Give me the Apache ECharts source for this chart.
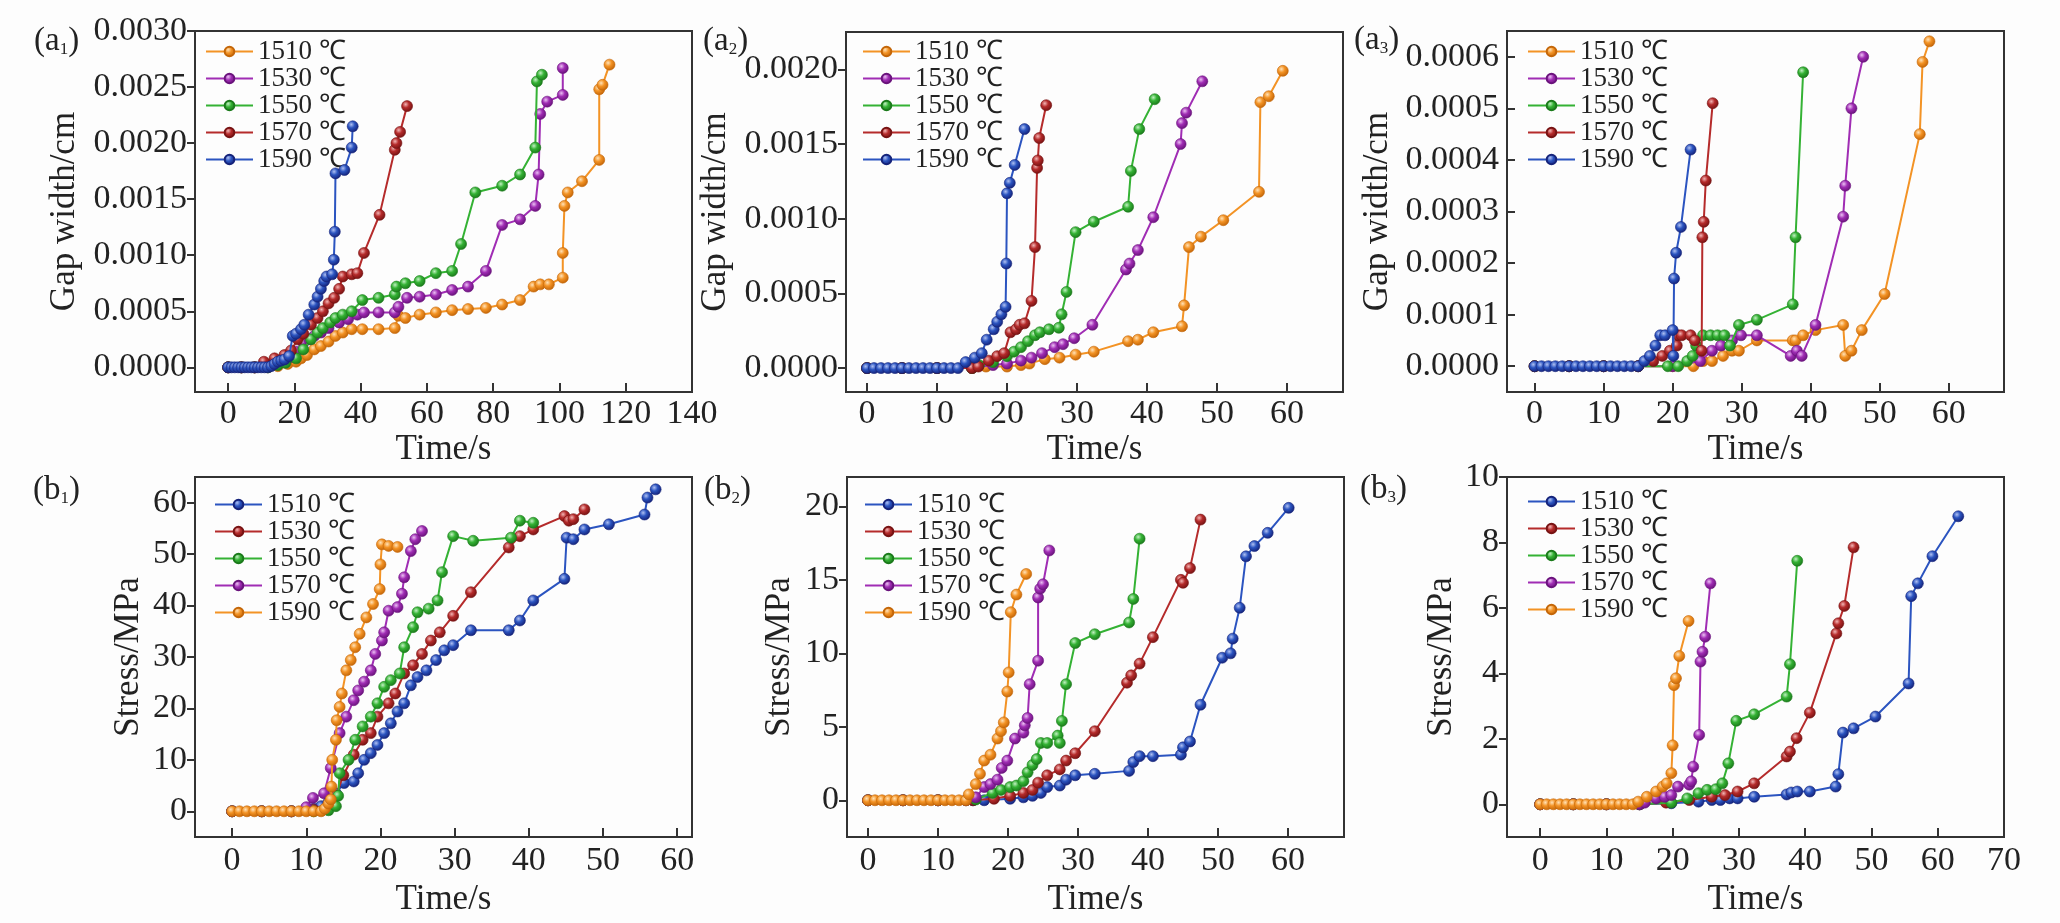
<!DOCTYPE html>
<html>
<head>
<meta charset="utf-8">
<script src="https://cdn.jsdelivr.net/npm/echarts@6/dist/echarts.min.js"></script>
<style>
html,body{margin:0;padding:0;background:#fdfdfd;}
#chart{width:2060px;height:923px;}
</style>
</head>
<body>
<div id="chart"></div>
<script>
// ---------- DATA ----------
const temps = ['1510 ℃','1530 ℃','1550 ℃','1570 ℃','1590 ℃'];

// tick values
const xTicksA1 = [0,20,40,60,80,100,120,140];
const xTicks60 = [0,10,20,30,40,50,60];
const xTicksB3 = [0,10,20,30,40,50,60,70];
const yTicksA1 = [0,0.0005,0.001,0.0015,0.002,0.0025,0.003];
const yTicksA2 = [0,0.0005,0.001,0.0015,0.002];
const yTicksA3 = [0,0.0001,0.0002,0.0003,0.0004,0.0005,0.0006];
const yTicksB1 = [0,10,20,30,40,50,60];
const yTicksB2 = [0,5,10,15,20];
const yTicksB3 = [0,2,4,6,8,10];

// (a1) gap width vs time
const a1_1510 = [[0,0],[4,0],[8,0],[12,0],[15,0.00001],[18,0.00003],[20.5,0.00005],[22,0.00008],[23.8,0.00011],[26,0.00016],[28,0.00019],[30.3,0.00023],[32.4,0.00028],[34.6,0.00031],[37.3,0.00034],[40.5,0.00034],[45.4,0.00034],[50.3,0.00035],[51.4,0.00046],[53.5,0.00044],[57.8,0.00047],[62.7,0.00049],[67.6,0.00051],[72.4,0.00052],[77.8,0.00053],[82.7,0.00056],[88.1,0.0006],[92.2,0.00072],[94.2,0.00074],[96.8,0.00074],[101,0.0008],[101,0.00102],[101.5,0.00144],[102.5,0.00156],[106.8,0.00166],[112,0.00185],[112,0.00248],[113,0.00252],[115.1,0.0027]];
const a1_1530 = [[0,0],[4,0],[8,0],[12,0.00002],[15,0.00004],[18,0.00008],[20.5,0.00014],[22.7,0.00022],[24.5,0.00025],[26,0.00028],[28,0.00031],[30.3,0.00035],[33.5,0.0004],[36.2,0.00043],[39,0.00047],[41,0.00049],[45.4,0.00049],[50.3,0.00049],[51.4,0.00054],[54,0.00062],[57.8,0.00063],[62.7,0.00065],[67.6,0.00069],[72.4,0.00072],[77.8,0.00086],[82.7,0.00127],[88.1,0.00132],[92.7,0.00144],[93.7,0.00172],[94.2,0.00226],[96.3,0.00237],[101,0.00243],[101,0.00267]];
const a1_1550 = [[0,0],[4,0],[8,0],[12,0],[15,0.00002],[17.3,0.00004],[20.5,0.00008],[22.7,0.00016],[25,0.00025],[27,0.00031],[28.6,0.00035],[30.8,0.0004],[32.4,0.00044],[34.6,0.00047],[37.3,0.0005],[40.5,0.0006],[45.4,0.00062],[50.3,0.00065],[50.8,0.00072],[53.5,0.00075],[57.8,0.00077],[62.7,0.00084],[67.6,0.00086],[70.3,0.0011],[74.6,0.00156],[82.7,0.00162],[88.1,0.00172],[92.7,0.00196],[93.2,0.00255],[94.7,0.00261]];
const a1_1570 = [[0,0],[4,0],[8,0],[10.8,0.00005],[14,0.00008],[17,0.00011],[19,0.00015],[21,0.00025],[22.7,0.0003],[25,0.00038],[27,0.00044],[28.6,0.0005],[30.3,0.00057],[32,0.00062],[33.5,0.0007],[34.6,0.00081],[37.3,0.00083],[39,0.00084],[41,0.00102],[45.7,0.00136],[50.3,0.00194],[50.8,0.002],[51.9,0.0021],[54,0.00233]];
const a1_1590 = [[0,0],[1,0],[2,0],[3,0],[4,0],[5,0],[6,0],[7,0],[8,0],[9,0],[10,0],[11,0],[12,0],[13,0.00001],[14,0.00003],[15,0.00005],[16,0.00006],[17,0.00007],[18.4,0.0001],[19.5,0.00028],[20.5,0.0003],[22,0.00034],[23,0.00038],[24.3,0.00047],[26,0.00056],[27,0.00063],[28,0.0007],[29,0.00077],[29.7,0.00081],[31.4,0.00083],[31.9,0.00096],[32.2,0.00121],[32.4,0.00173],[35.1,0.00176],[37.3,0.00196],[37.6,0.00215]];

// (a2)
const a2_1510 = [[0,0],[5,0],[10,0],[15,0],[17,0.00001],[20,0.00001],[22,0.00002],[23.2,0.00003],[25.4,0.00006],[27.5,0.00007],[29.8,0.00009],[32.4,0.00011],[37.3,0.00018],[38.7,0.00019],[40.9,0.00024],[45,0.00028],[45.3,0.00042],[46,0.00081],[47.7,0.00088],[50.9,0.00099],[56,0.00118],[56.2,0.00178],[57.4,0.00182],[59.4,0.00199]];
const a2_1530 = [[0,0],[5,0],[10,0],[15,0],[18,0.00002],[20,0.00003],[22,0.00005],[23.5,0.00007],[25,0.0001],[26.8,0.00014],[28,0.00016],[29.6,0.0002],[32.2,0.00029],[37,0.00066],[37.5,0.0007],[38.7,0.00079],[40.9,0.00101],[44.8,0.0015],[45,0.00164],[45.6,0.00171],[47.9,0.00192]];
const a2_1550 = [[0,0],[5,0],[10,0],[15,0],[16,0.00002],[18,0.00004],[20,0.00008],[21,0.00011],[22,0.00014],[23,0.00018],[24,0.00022],[24.7,0.00024],[26,0.00026],[27.4,0.00027],[27.8,0.00036],[28.5,0.00051],[29.8,0.00091],[32.4,0.00098],[37.3,0.00108],[37.7,0.00132],[38.9,0.0016],[41.1,0.0018]];
const a2_1570 = [[0,0],[5,0],[10,0],[15,0],[15.9,0.00001],[17.4,0.00005],[18.6,0.00008],[19.6,0.0001],[20.5,0.00024],[21.3,0.00026],[21.8,0.00029],[22.5,0.0003],[23.5,0.00045],[24,0.00081],[24.3,0.00134],[24.4,0.00139],[24.6,0.00154],[25.6,0.00176]];
const a2_1590 = [[0,0],[1,0],[2,0],[3,0],[4,0],[5,0],[6,0],[7,0],[8,0],[9,0],[10,0],[11,0],[12,0],[13,0],[14.1,0.00004],[15.4,0.00007],[16.4,0.0001],[17.1,0.00019],[18.1,0.00026],[18.6,0.00031],[19.2,0.00036],[19.8,0.00041],[19.9,0.0007],[20,0.00117],[20.4,0.00124],[21.1,0.00136],[22.5,0.0016]];

// (a3)
const a3_1510 = [[0,0],[5,0],[10,0],[15,0],[20,0],[23,0],[24.4,0.00001],[25.7,0.00001],[27.3,0.00002],[28.6,0.00003],[29.6,0.00003],[32.2,0.00005],[37.4,0.00005],[37.8,0.00005],[38.9,0.00006],[40.7,0.00007],[44.7,0.00008],[45,0.00002],[45.9,0.00003],[47.4,0.00007],[50.7,0.00014],[55.8,0.00045],[56.2,0.00059],[57.2,0.00063]];
const a3_1530 = [[0,0],[5,0],[10,0],[15,0],[20,0],[24,0.00001],[25.7,0.00003],[27,0.00004],[28.6,0.00005],[29.9,0.00006],[32.2,0.00006],[37.1,0.00002],[38,0.00003],[38.7,0.00002],[40.7,0.00008],[44.7,0.00029],[45,0.00035],[45.9,0.0005],[47.6,0.0006]];
const a3_1550 = [[0,0],[5,0],[10,0],[15,0],[19.3,0],[20.8,0],[22.1,0.00001],[22.9,0.00002],[23.4,0.00004],[24.4,0.00006],[25.5,0.00006],[26.5,0.00006],[27.5,0.00006],[28.3,0.00004],[29.6,0.00008],[32.2,0.00009],[37.4,0.00012],[37.8,0.00025],[38.9,0.00057]];
const a3_1570 = [[0,0],[5,0],[10,0],[15,0],[17.2,0.00001],[18.5,0.00002],[19.6,0.00003],[20.6,0.00004],[20.8,0.00006],[21.3,0.00006],[22.6,0.00006],[23.2,0.00005],[24.2,0.00003],[24.3,0.00025],[24.5,0.00028],[24.8,0.00036],[25.8,0.00051]];
const a3_1590 = [[0,0],[1,0],[2,0],[3,0],[4,0],[5,0],[6,0],[7,0],[8,0],[9,0],[10,0],[11,0],[12,0],[13,0],[14,0],[15,0],[15.9,0.00001],[16.7,0.00002],[17.5,0.00004],[18.2,0.00006],[18.9,0.00006],[20,0.00007],[20.1,0.00002],[20.2,0.00017],[20.5,0.00022],[21.2,0.00027],[22.6,0.00042]];

// (b1) stress vs time
const b1_1510 = [[0,0],[4,0],[8,0],[11,0.5],[12,1],[13,1.8],[14,3.5],[15.1,5.5],[16.4,5.8],[17,7.4],[17.8,10],[18.7,11.3],[19.6,12.9],[20.5,15.2],[21.4,17.1],[22.3,19.4],[23.2,21],[24.1,24.5],[25,26.1],[26.2,27.4],[27.5,29.4],[28.6,31.3],[29.8,32.3],[32.2,35.2],[37.3,35.2],[38.8,37.1],[40.6,41],[44.8,45.2],[45.1,53.2],[46,52.9],[47.5,54.8],[50.8,55.8],[55.6,57.7],[56,61],[57.1,62.6]];
const b1_1530 = [[0,0],[4,0],[8,0],[11,0.3],[13,1],[14,3],[15,7],[16.4,11],[17.6,13.9],[18.7,15.2],[19.6,18.4],[21.1,21],[22,22.9],[23.2,26.8],[24.4,28.4],[25.6,30.6],[26.8,33.2],[28,34.8],[29.8,38],[32.2,42.6],[37.3,51.3],[38.8,53.5],[40.6,54.8],[44.8,57.4],[45.4,56.5],[46,56.8],[47.5,58.7]];
const b1_1550 = [[0,0],[4,0],[8,0],[11,0],[13,0.2],[14,1],[14.3,3],[14.5,7.4],[15.7,10],[16.6,13.9],[17.6,16.5],[18.7,18.4],[19.6,21],[20.5,24.2],[21.4,25.5],[22.6,26.8],[23.2,31.9],[24.4,35.8],[25,38.7],[26.5,39.4],[27.7,41],[28.3,46.5],[29.8,53.5],[32.5,52.6],[37.6,53.2],[38.8,56.5],[40.6,56.1]];
const b1_1570 = [[0,0],[4,0],[8,0],[10,0.8],[10.9,2.6],[12.4,3.5],[13.3,8.4],[14.5,15.2],[15.4,18.4],[16.4,21.6],[17,23.5],[17.8,25.2],[18.7,27.4],[19.3,30.6],[20.2,33.2],[20.5,34.8],[21.1,39],[22.3,39.7],[22.9,42.3],[23.2,45.5],[24.1,50.6],[24.7,52.9],[25.6,54.5]];
const b1_1590 = [[0,0],[1,0],[2,0],[3,0],[4,0],[5,0],[6,0],[7,0],[8,0],[9,0],[10,0],[11,0],[12,0],[12.5,0.5],[13,1.5],[13.3,2.3],[13.4,4.8],[13.5,10],[14,13.9],[14.1,17.7],[14.5,20.3],[14.8,22.9],[15.4,27.4],[16,29.4],[16.6,31.9],[17.2,34.5],[18.1,37.7],[19,40.3],[19.9,43.2],[20,48],[20.2,51.9],[21.1,51.6],[22.3,51.4]];

// (b2)
const b2_1510 = [[0,0],[5,0],[10,0],[15,0],[16.6,0],[20.3,0.1],[22.2,0.2],[23.5,0.3],[24.7,0.5],[25.6,0.9],[27.4,1],[28.3,1.4],[29.6,1.7],[32.4,1.8],[37.3,2],[37.9,2.6],[38.8,3],[40.7,3],[44.7,3.1],[45,3.6],[46,4],[47.5,6.5],[50.6,9.7],[51.8,10],[52.1,11],[53.1,13.1],[54,16.6],[55.2,17.3],[57.1,18.2],[60.1,19.9]];
const b2_1530 = [[0,0],[5,0],[10,0],[15,0],[18,0.1],[20.3,0.3],[22.2,0.5],[23.5,0.7],[24.3,1.2],[25.6,1.7],[27.4,2.1],[28.3,2.7],[29.6,3.2],[32.4,4.7],[37,8],[37.6,8.5],[38.8,9.3],[40.7,11.1],[44.7,15],[45,14.8],[46,15.8],[47.5,19.1]];
const b2_1550 = [[0,0],[5,0],[10,0],[14,0],[15.4,0.05],[17.8,0.5],[19,0.7],[20.3,0.9],[21.2,1],[22.2,1.3],[22.8,1.9],[23.5,2.4],[24.1,2.8],[24.7,3.9],[25.6,3.9],[27.1,4.4],[27.4,3.9],[27.7,5.4],[28.3,7.9],[29.6,10.7],[32.4,11.3],[37.3,12.1],[37.9,13.7],[38.8,17.8]];
const b2_1570 = [[0,0],[5,0],[10,0],[14,0],[15.4,0.2],[16.6,0.9],[17.5,1.1],[18.5,1.4],[19.1,2.2],[19.9,2.7],[21,4.2],[22.2,4.6],[22.4,5.1],[22.8,5.6],[23.1,7.9],[24.3,9.5],[24.3,13.8],[24.6,14.4],[25,14.7],[25.9,17]];
const b2_1590 = [[0,0],[1,0],[2,0],[3,0],[4,0],[5,0],[6,0],[7,0],[8,0],[9,0],[10,0],[11,0],[12,0],[13,0],[14,0],[14.4,0.4],[15.4,1.1],[16,1.8],[16.6,2.7],[17.5,3.1],[18.5,4.2],[19,4.7],[19.4,5.3],[19.9,7.4],[20.1,8.7],[20.4,12.8],[21.2,14],[22.6,15.4]];

// (b3)
const b3_1510 = [[0,0],[5,0],[10,0],[15,0],[19.8,0.03],[23.9,0.08],[25.9,0.13],[27.2,0.13],[28.6,0.18],[29.8,0.18],[32.3,0.23],[37.2,0.3],[37.9,0.36],[38.8,0.39],[40.7,0.39],[44.6,0.54],[45,0.92],[45.7,2.19],[47.3,2.32],[50.6,2.68],[55.6,3.69],[56,6.36],[57,6.75],[59.2,7.58],[63.1,8.8]];
const b3_1530 = [[0,0],[5,0],[10,0],[15,0],[19,0.05],[22.5,0.13],[25.9,0.23],[27.9,0.28],[29.8,0.39],[32.3,0.64],[37.2,1.46],[37.7,1.61],[38.7,2.02],[40.7,2.8],[44.7,5.22],[45,5.53],[45.9,6.06],[47.3,7.85]];
const b3_1550 = [[0,0],[5,0],[10,0],[15,0],[19.8,0.05],[22.2,0.18],[23.9,0.34],[25.2,0.44],[26.5,0.46],[27.5,0.64],[28.4,1.25],[29.6,2.55],[32.3,2.75],[37.2,3.29],[37.7,4.28],[38.8,7.44]];
const b3_1570 = [[0,0],[5,0],[10,0],[15,0],[15.8,0.05],[17.5,0.18],[18.8,0.23],[19.8,0.28],[20.8,0.54],[22.5,0.6],[22.8,0.7],[23.1,1.15],[24,2.12],[24.2,4.36],[24.5,4.66],[24.9,5.12],[25.7,6.75]];
const b3_1590 = [[0,0],[1,0],[2,0],[3,0],[4,0],[5,0],[6,0],[7,0],[8,0],[9,0],[10,0],[11,0],[12,0],[13,0],[14,0],[14.8,0.08],[16.1,0.23],[17.5,0.39],[18.5,0.54],[19.1,0.64],[19.8,0.95],[20,1.8],[20.2,3.64],[20.5,3.85],[21,4.53],[22.4,5.6]];

// ---------- STYLE / LAYOUT ----------
const FONT = '"Liberation Serif","Times New Roman",serif';
const TXT = '#222';
const AX = '#333';
const pal = {
  orange:{line:'#F39325', light:'#FFE2B8', dark:'#C46608'},
  purple:{line:'#A02DB4', light:'#EBC0F3', dark:'#6A137C'},
  green: {line:'#34B234', light:'#C2F0C2', dark:'#1B7A1B'},
  red:   {line:'#B52B2B', light:'#F2B5B5', dark:'#771313'},
  blue:  {line:'#2B54C0', light:'#AFC0F2', dark:'#15237A'}
};
const rowA = [pal.orange, pal.purple, pal.green, pal.red, pal.blue];
const rowB = [pal.blue, pal.red, pal.green, pal.purple, pal.orange];

const panels = [
  {id:'a1', L:'a', S:'1', lab:[34,22], grid:[195,31,497,361], x:[-10,140,xTicksA1], y:[-0.00022,0.003,yTicksA1,4],
   yName:'Gap width/cm', yGap:113, xGap:40, xMargin:5, yInside:false, legend:[205,38], cols:rowA,
   data:[a1_1510,a1_1530,a1_1550,a1_1570,a1_1590]},
  {id:'a2', L:'a', S:'2', lab:[703,22], grid:[846,32,497,360], x:[-3,68,xTicks60], y:[-0.00016,0.00225,yTicksA2,4],
   yName:'Gap width/cm', yGap:113, xGap:40, xMargin:5, yInside:false, legend:[862,38], cols:rowA,
   data:[a2_1510,a2_1530,a2_1550,a2_1570,a2_1590]},
  {id:'a3', L:'a', S:'3', lab:[1354,21], grid:[1507,31,497,361], x:[-4,68,xTicks60], y:[-0.00005,0.00065,yTicksA3,4],
   yName:'Gap width/cm', yGap:112, xGap:40, xMargin:5, yInside:true, legend:[1527,38], cols:rowA,
   data:[a3_1510,a3_1530,a3_1550,a3_1570,a3_1590]},
  {id:'b1', L:'b', S:'1', lab:[33,471], grid:[195,477,497,360], x:[-5,62,xTicks60], y:[-5,65,yTicksB1,0],
   yName:'Stress/MPa', yGap:49, xGap:45, xMargin:7, yInside:false, legend:[214,491], cols:rowB,
   data:[b1_1510,b1_1530,b1_1550,b1_1570,b1_1590]},
  {id:'b2', L:'b', S:'2', lab:[704,471], grid:[847,477,497,360], x:[-3,68,xTicks60], y:[-2.5,22,yTicksB2,0],
   yName:'Stress/MPa', yGap:50, xGap:45, xMargin:7, yInside:false, legend:[864,491], cols:rowB,
   data:[b2_1510,b2_1530,b2_1550,b2_1570,b2_1590]},
  {id:'b3', L:'b', S:'3', lab:[1360,470], grid:[1507,477,497,360], x:[-5,70,xTicksB3], y:[-1,10,yTicksB3,0],
   yName:'Stress/MPa', yGap:48, xGap:45, xMargin:7, yInside:false, legend:[1527,488], cols:rowB,
   data:[b3_1510,b3_1530,b3_1550,b3_1570,b3_1590]}
];

function ball(c){
  return {type:'radial', x:0.38, y:0.35, r:0.65, colorStops:[
    {offset:0, color:c.light},{offset:0.45, color:c.line},{offset:1, color:c.dark}]};
}

const grids=[], xAxes=[], yAxes=[], series=[], legends=[], titles=[];
panels.forEach((p,k)=>{
  grids.push({left:p.grid[0], top:p.grid[1], width:p.grid[2], height:p.grid[3],
    show:true, borderColor:AX, borderWidth:2, backgroundColor:'rgba(0,0,0,0)'});
  xAxes.push({type:'value', gridIndex:k, min:p.x[0], max:p.x[1],
    axisLine:{show:true, onZero:false, lineStyle:{color:AX, width:2}},
    axisTick:{show:true, inside:true, length:9, customValues:p.x[2], lineStyle:{color:AX, width:2}},
    axisLabel:{customValues:p.x[2], margin:p.xMargin, fontFamily:FONT, fontSize:34, color:TXT},
    splitLine:{show:false},
    name:'Time/s', nameLocation:'middle', nameGap:p.xGap,
    nameTextStyle:{fontFamily:FONT, fontSize:35, color:TXT}});
  const dec = p.y[3];
  yAxes.push({type:'value', gridIndex:k, min:p.y[0], max:p.y[1],
    axisLine:{show:true, onZero:false, lineStyle:{color:AX, width:2}},
    axisTick:{show:true, inside:p.yInside, length:8, customValues:p.y[2], lineStyle:{color:AX, width:2}},
    axisLabel:{customValues:p.y[2], margin:8, fontFamily:FONT, fontSize:34, color:TXT,
      formatter:v=>dec?v.toFixed(dec):String(Math.round(v))},
    splitLine:{show:false},
    name:p.yName, nameLocation:'middle', nameGap:p.yGap,
    nameTextStyle:{fontFamily:FONT, fontSize:35, color:TXT}});
  const names=[];
  p.data.forEach((d,i)=>{
    const c=p.cols[i];
    const nm=temps[i]+'|'+p.id;
    names.push(nm);
    series.push({type:'line', name:nm, xAxisIndex:k, yAxisIndex:k, data:d,
      symbol:'circle', symbolSize:11, showAllSymbol:true,
      lineStyle:{color:c.line, width:2},
      itemStyle:{color:ball(c), borderColor:c.dark, borderWidth:0.6},
      emphasis:{disabled:true}, z:2+i});
  });
  legends.push({orient:'vertical', left:p.legend[0], top:p.legend[1], padding:0,
    itemWidth:47, itemHeight:12, itemGap:0, selectedMode:false, data:names,
    formatter:n=>n.split('|')[0],
    textStyle:{fontFamily:FONT, fontSize:27, lineHeight:23, color:TXT}});
  titles.push({text:'{p|(' + p.L + '}{s|' + p.S + '}{p|)}', left:p.lab[0], top:p.lab[1], padding:0,
    textStyle:{fontWeight:'normal', rich:{
      p:{fontFamily:FONT, fontSize:33, fontWeight:'normal', color:TXT, lineHeight:36, verticalAlign:'bottom'},
      s:{fontFamily:FONT, fontSize:17, fontWeight:'normal', color:TXT, lineHeight:20, verticalAlign:'bottom'}}}});
});

const chart = echarts.init(document.getElementById('chart'));
chart.setOption({
  backgroundColor:'#fdfdfd',
  animation:false,
  title:titles,
  grid:grids, xAxis:xAxes, yAxis:yAxes,
  legend:legends,
  series:series
});
</script>
</body>
</html>
